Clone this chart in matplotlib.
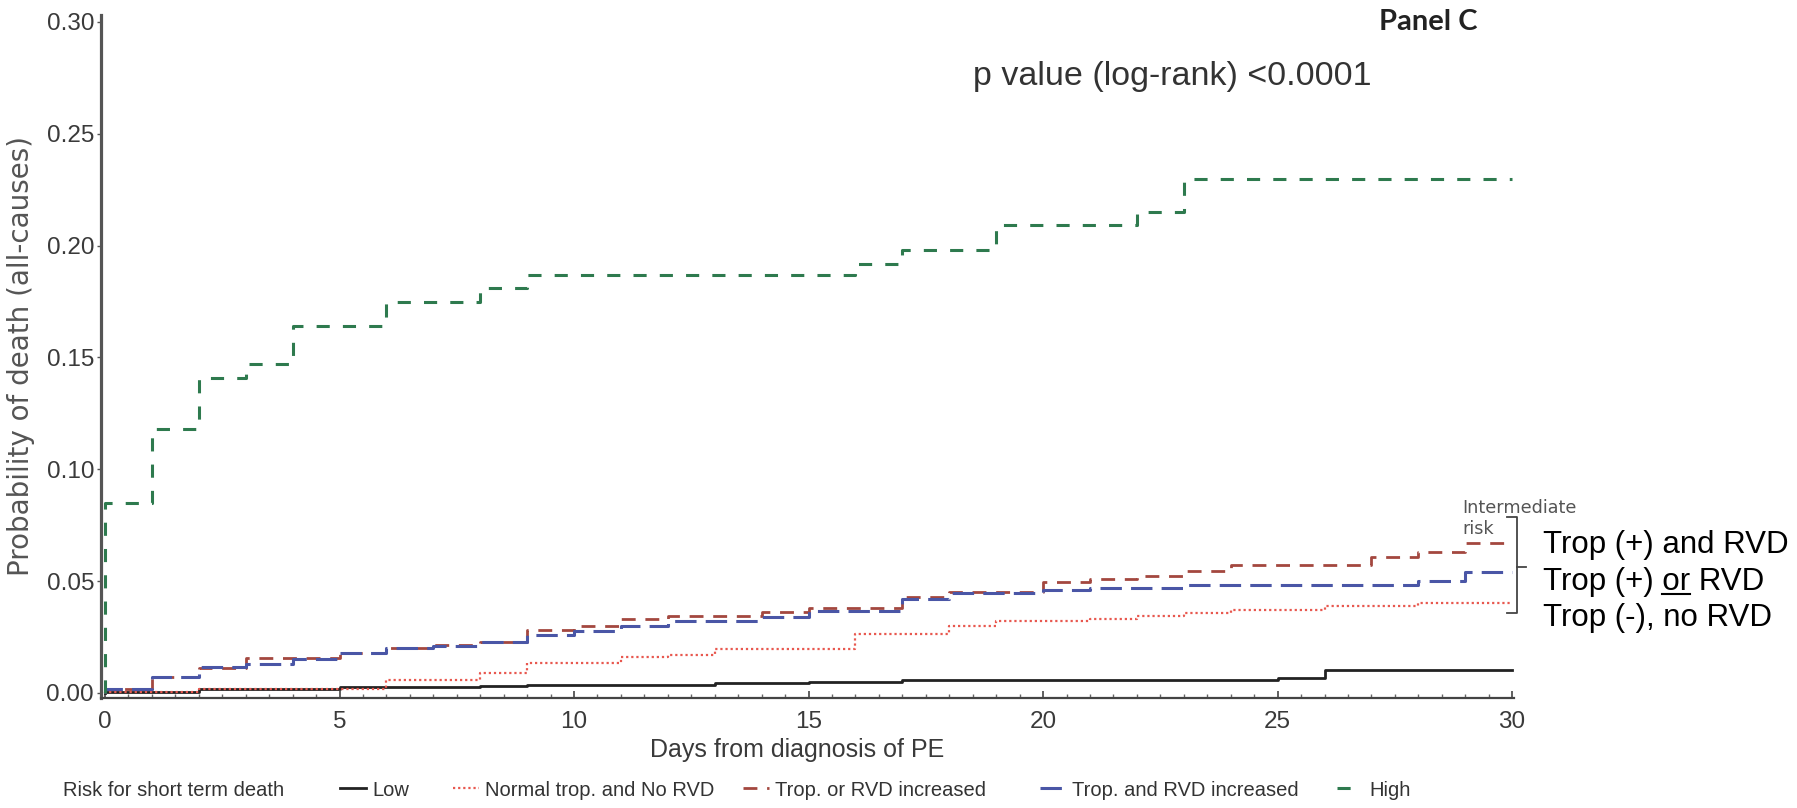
import numpy as np
import matplotlib
matplotlib.use('Agg')
import matplotlib.pyplot as plt
from matplotlib.lines import Line2D
from matplotlib.ticker import MultipleLocator

# Step curves: day of each step and cumulative probability of death after it
low_days = [0, 0, 2, 5, 8, 9, 13, 15, 17, 25, 26, 30]
low_prob = [0, 0.0005, 0.002, 0.0028, 0.0032, 0.0037, 0.0045, 0.005, 0.006, 0.0065, 0.0105, 0.0105]

normal_days = [0, 0, 2, 6, 8, 9, 11, 12, 13, 16, 18, 19, 21, 22, 23, 24, 26, 28, 30]
normal_prob = [0, 0.0003, 0.002, 0.006, 0.009, 0.0135, 0.016, 0.017, 0.0195, 0.0265, 0.030,
               0.032, 0.033, 0.0345, 0.0358, 0.0372, 0.0387, 0.0402, 0.0402]

trop_or_days = [0, 0, 1, 2, 3, 5, 6, 7, 8, 9, 10, 11, 12, 14, 15, 17, 18, 20, 21, 22, 23, 24,
                27, 28, 29, 30]
trop_or_prob = [0, 0.002, 0.007, 0.011, 0.0155, 0.018, 0.020, 0.0215, 0.023, 0.028, 0.030, 0.033,
                0.0345, 0.036, 0.038, 0.043, 0.045, 0.0495, 0.051, 0.0525, 0.0545, 0.057,
                0.061, 0.063, 0.067, 0.067]

trop_and_days = [0, 0, 1, 2, 3, 4, 5, 6, 7, 8, 9, 10, 11, 12, 14, 15, 17, 18, 20, 21, 23, 28, 29, 30]
trop_and_prob = [0, 0.002, 0.007, 0.0115, 0.013, 0.015, 0.018, 0.020, 0.021, 0.023, 0.026, 0.0275,
                 0.030, 0.032, 0.034, 0.0365, 0.042, 0.0445, 0.046, 0.047, 0.0485, 0.050, 0.054, 0.054]

high_days = [0, 0, 1, 2, 3, 4, 6, 8, 9, 16, 17, 19, 22, 23, 30]
high_prob = [0, 0.085, 0.118, 0.141, 0.147, 0.164, 0.175, 0.181, 0.187, 0.192, 0.198, 0.209,
             0.215, 0.230, 0.230]

group_names = ['Low', 'Normal trop. and No RVD', 'Trop. or RVD increased',
               'Trop. and RVD increased', 'High']
right_labels = ['Trop (+) and RVD', 'Trop (+) or RVD', 'Trop (-), no RVD']
x_ticks = [0, 5, 10, 15, 20, 25, 30]
y_ticks = [0.00, 0.05, 0.10, 0.15, 0.20, 0.25, 0.30]

W, H = 1797, 808
fig = plt.figure(figsize=(W / 100, H / 100), dpi=100)
ax = fig.add_axes([101 / W, 1 - 698 / H, 1413 / W, 683 / H])

styles = [
    dict(color='#222222', lw=2.0, linestyle='-'),
    dict(color='#e8584f', lw=1.6, dashes=(1.0, 1.3)),
    dict(color='#a3473f', lw=2.0, dashes=(5.0, 3.5)),
    dict(color='#4a56a6', lw=2.2, dashes=(7.0, 3.0)),
    dict(color='#2e7a4e', lw=2.2, dashes=(4.3, 4.3)),
]
series = [(low_days, low_prob), (normal_days, normal_prob), (trop_or_days, trop_or_prob),
          (trop_and_days, trop_and_prob), (high_days, high_prob)]

handles = []
for (d, p), st, name in zip(series, styles, group_names):
    line, = ax.step(d, p, where='post', label=name, **st)
    handles.append(line)

ax.set_xlim(-0.085, 30.04)
ax.set_ylim(-0.00224, 0.3031)
ax.set_xticks(x_ticks)
ax.set_yticks(y_ticks)
ax.set_yticklabels(['%.2f' % v for v in y_ticks])
ax.xaxis.set_minor_locator(MultipleLocator(0.5))

for s in ['top', 'right']:
    ax.spines[s].set_visible(False)
ax.spines['left'].set_color('#555555')
ax.spines['left'].set_linewidth(2.3)
ax.spines['bottom'].set_color('#444444')
ax.spines['bottom'].set_linewidth(1.6)

ax.tick_params(axis='x', which='major', direction='in', length=5, width=1.2, color='#444444',
               pad=9, labelsize=17.5, labelcolor='#3a3a3a')
ax.tick_params(axis='x', which='minor', direction='in', length=3, width=1.0, color='#666666')
ax.tick_params(axis='y', which='major', direction='out', length=3, width=1.0, color='#555555',
               pad=2, labelsize=17.5, labelcolor='#3a3a3a')
for lab in ax.get_xticklabels() + ax.get_yticklabels():
    lab.set_family('Liberation Sans')

ax.set_ylabel('Probability of death (all-causes)', family='DejaVu Sans', fontsize=20,
              color='#555555')
ax.yaxis.set_label_coords(-0.047, 0.5)
ax.set_xlabel('Days from diagnosis of PE', family='Liberation Sans', fontsize=18,
              color='#3a3a3a')
ax.xaxis.set_label_coords(0.4926, -0.076)
ax.xaxis.label.set_va('center')

# titles
fig.text(1428 / W, 1 - 22 / H, 'Panel C', family='Lato', weight='bold', fontsize=21,
         color='#222222', ha='center', va='center')
fig.text(973 / W, 1 - 76 / H, 'p value (log-rank) <0.0001', family='Liberation Sans',
         fontsize=24.5, color='#333333', ha='left', va='center')

# intermediate risk bracket
fig.text(1462 / W, 1 - 499 / H, 'Intermediate\nrisk', family='DejaVu Sans', fontsize=12.7,
         color='#555555', ha='left', va='top', linespacing=1.25)
bx = [1507, 1517, 1517, 1507]
by = [517, 517, 613, 613]
fig.add_artist(Line2D([v / W for v in bx], [1 - v / H for v in by], color='#444444', lw=1.3))
fig.add_artist(Line2D([1517 / W, 1526 / W], [1 - 567 / H, 1 - 567 / H], color='#444444', lw=1.3))

rfont = dict(family='Liberation Sans', fontsize=22.5)
baselines = [553, 590, 626]
for lab, yb in zip(right_labels, baselines):
    fig.text(1543 / W, 1 - yb / H, lab, color='black', ha='left', va='baseline', **rfont)

# underline "or"
fig.canvas.draw()
r = fig.canvas.get_renderer()
t_pre = fig.text(1543 / W, 1 - baselines[1] / H, 'Trop (+) or', ha='left', va='baseline',
                 alpha=0, **rfont)
t_or = fig.text(0, 0, 'or', alpha=0, **rfont)
e_pre = t_pre.get_window_extent(r)
e_or = t_or.get_window_extent(r)
x_end = e_pre.x1
x_start = x_end - e_or.width
y_line = H - baselines[1] - 4
fig.add_artist(Line2D([x_start / W, x_end / W], [y_line / H, y_line / H], color='black', lw=1.5))

# legend: one entry per box, placed where the reference has them
leg_y = 1 - 790 / H
fig.text(63 / W, leg_y, 'Risk for short term death', family='Liberation Sans',
         fontsize=14.5, color='#333333', ha='left', va='center')
leg_x = [340, 453, 743, 1040, 1337]
for h, name, lx in zip(handles, group_names, leg_x):
    leg = fig.legend(handles=[h], labels=[name], loc='center left',
                     bbox_to_anchor=(lx / W, leg_y), frameon=False,
                     borderpad=0, borderaxespad=0, handlelength=1.3, handletextpad=0.3,
                     prop=dict(family='Liberation Sans', size=14.5))
    for t in leg.get_texts():
        t.set_color('#333333')

fig.savefig('out.png', dpi=100)
